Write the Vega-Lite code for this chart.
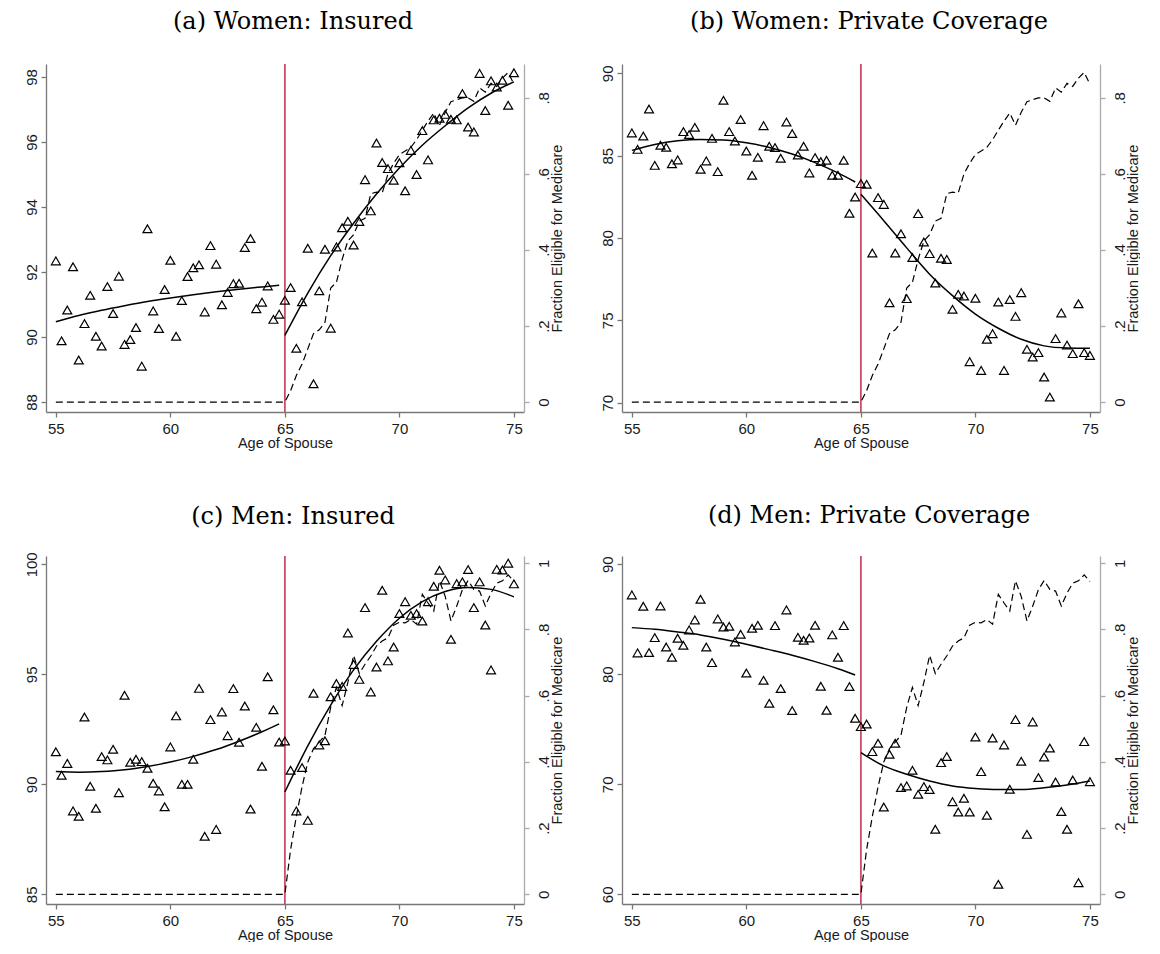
{
 "$schema": "https://vega.github.io/schema/vega-lite/v6.json",
 "background": "white",
 "padding": {"left": 23, "top": 10, "right": 0, "bottom": 0},
 "datasets": {
  "q": [
   {"age":55,"a":92.34,"b":86.38,"c":91.48,"d":87.21,"w":0,"m":0},
   {"age":55.25,"a":89.88,"b":85.38,"c":90.41,"d":81.94,"w":0,"m":0},
   {"age":55.5,"a":90.83,"b":86.19,"c":90.95,"d":86.18,"w":0,"m":0},
   {"age":55.75,"a":92.16,"b":87.83,"c":88.79,"d":81.97,"w":0,"m":0},
   {"age":56,"a":89.29,"b":84.41,"c":88.55,"d":83.33,"w":0,"m":0},
   {"age":56.25,"a":90.41,"b":85.63,"c":93.06,"d":86.21,"w":0,"m":0},
   {"age":56.5,"a":91.28,"b":85.51,"c":89.91,"d":82.48,"w":0,"m":0},
   {"age":56.75,"a":90.02,"b":84.51,"c":88.91,"d":81.55,"w":0,"m":0},
   {"age":57,"a":89.72,"b":84.74,"c":91.26,"d":83.27,"w":0,"m":0},
   {"age":57.25,"a":91.55,"b":86.46,"c":91.11,"d":82.64,"w":0,"m":0},
   {"age":57.5,"a":90.72,"b":86.28,"c":91.59,"d":84.03,"w":0,"m":0},
   {"age":57.75,"a":91.87,"b":86.72,"c":89.62,"d":84.94,"w":0,"m":0},
   {"age":58,"a":89.77,"b":84.17,"c":94.05,"d":86.82,"w":0,"m":0},
   {"age":58.25,"a":89.92,"b":84.68,"c":91.0,"d":82.48,"w":0,"m":0},
   {"age":58.5,"a":90.29,"b":86.05,"c":91.14,"d":81.06,"w":0,"m":0},
   {"age":58.75,"a":89.10,"b":84.03,"c":91.03,"d":85.03,"w":0,"m":0},
   {"age":59,"a":93.33,"b":88.36,"c":90.73,"d":84.30,"w":0,"m":0},
   {"age":59.25,"a":90.80,"b":86.46,"c":90.05,"d":84.36,"w":0,"m":0},
   {"age":59.5,"a":90.26,"b":85.89,"c":89.70,"d":82.94,"w":0,"m":0},
   {"age":59.75,"a":91.46,"b":87.19,"c":88.98,"d":83.64,"w":0,"m":0},
   {"age":60,"a":92.36,"b":85.28,"c":91.70,"d":80.12,"w":0,"m":0},
   {"age":60.25,"a":90.02,"b":83.81,"c":93.11,"d":84.18,"w":0,"m":0},
   {"age":60.5,"a":91.12,"b":84.90,"c":90.0,"d":84.45,"w":0,"m":0},
   {"age":60.75,"a":91.86,"b":86.82,"c":90.0,"d":79.45,"w":0,"m":0},
   {"age":61,"a":92.13,"b":85.57,"c":91.14,"d":77.36,"w":0,"m":0},
   {"age":61.25,"a":92.22,"b":85.49,"c":94.36,"d":84.42,"w":0,"m":0},
   {"age":61.5,"a":90.77,"b":84.84,"c":87.64,"d":78.70,"w":0,"m":0},
   {"age":61.75,"a":92.81,"b":87.04,"c":92.94,"d":85.85,"w":0,"m":0},
   {"age":62,"a":92.24,"b":86.34,"c":87.95,"d":76.70,"w":0,"m":0},
   {"age":62.25,"a":90.99,"b":85.04,"c":93.29,"d":83.36,"w":0,"m":0},
   {"age":62.5,"a":91.37,"b":85.57,"c":92.21,"d":83.09,"w":0,"m":0},
   {"age":62.75,"a":91.64,"b":83.95,"c":94.35,"d":83.30,"w":0,"m":0},
   {"age":63,"a":91.65,"b":84.88,"c":91.91,"d":84.45,"w":0,"m":0},
   {"age":63.25,"a":92.75,"b":84.64,"c":93.56,"d":78.91,"w":0,"m":0},
   {"age":63.5,"a":93.03,"b":84.72,"c":88.88,"d":76.73,"w":0,"m":0},
   {"age":63.75,"a":90.87,"b":83.81,"c":92.59,"d":83.58,"w":0,"m":0},
   {"age":64,"a":91.07,"b":83.81,"c":90.82,"d":81.55,"w":0,"m":0},
   {"age":64.25,"a":91.57,"b":84.72,"c":94.89,"d":84.42,"w":0,"m":0},
   {"age":64.5,"a":90.54,"b":81.50,"c":93.39,"d":78.88,"w":0,"m":0},
   {"age":64.75,"a":90.70,"b":82.49,"c":91.92,"d":76.0,"w":0,"m":0},
   {"age":65,"a":91.13,"b":83.30,"c":91.97,"d":75.24,"w":0,"m":0},
   {"age":65.25,"a":91.52,"b":83.26,"c":90.64,"d":75.48,"w":0.03,"m":0.135},
   {"age":65.5,"a":89.65,"b":79.09,"c":88.79,"d":72.97,"w":0.07,"m":0.235},
   {"age":65.75,"a":91.08,"b":82.45,"c":90.76,"d":73.73,"w":0.10,"m":0.325},
   {"age":66,"a":92.73,"b":82.04,"c":88.36,"d":67.94,"w":0.14,"m":0.40},
   {"age":66.25,"a":88.56,"b":76.07,"c":94.14,"d":72.73,"w":0.18,"m":0.44},
   {"age":66.5,"a":91.42,"b":79.09,"c":91.79,"d":73.73,"w":0.19,"m":0.46},
   {"age":66.75,"a":92.70,"b":80.26,"c":91.98,"d":69.70,"w":0.21,"m":0.48},
   {"age":67,"a":90.27,"b":76.32,"c":93.98,"d":69.85,"w":0.30,"m":0.565},
   {"age":67.25,"a":92.77,"b":78.81,"c":94.58,"d":71.27,"w":0.315,"m":0.625},
   {"age":67.5,"a":93.36,"b":81.48,"c":94.45,"d":69.09,"w":0.375,"m":0.57},
   {"age":67.75,"a":93.56,"b":79.76,"c":96.88,"d":69.79,"w":0.424,"m":0.64},
   {"age":68,"a":92.83,"b":79.05,"c":95.45,"d":69.52,"w":0.44,"m":0.722},
   {"age":68.25,"a":93.55,"b":77.27,"c":94.77,"d":65.91,"w":0.476,"m":0.667},
   {"age":68.5,"a":94.84,"b":78.77,"c":98.03,"d":71.97,"w":0.483,"m":0.695},
   {"age":68.75,"a":93.88,"b":78.70,"c":94.20,"d":72.52,"w":0.548,"m":0.72},
   {"age":69,"a":95.97,"b":75.67,"c":95.33,"d":68.42,"w":0.552,"m":0.75},
   {"age":69.25,"a":95.37,"b":76.58,"c":98.82,"d":67.48,"w":0.55,"m":0.765},
   {"age":69.5,"a":95.18,"b":76.48,"c":95.61,"d":68.73,"w":0.60,"m":0.775},
   {"age":69.75,"a":94.82,"b":72.49,"c":96.24,"d":67.48,"w":0.628,"m":0.813},
   {"age":70,"a":95.36,"b":76.34,"c":97.76,"d":74.30,"w":0.651,"m":0.822},
   {"age":70.25,"a":94.50,"b":71.96,"c":98.30,"d":71.15,"w":0.66,"m":0.82},
   {"age":70.5,"a":95.74,"b":73.85,"c":97.68,"d":67.18,"w":0.67,"m":0.83},
   {"age":70.75,"a":95.0,"b":74.19,"c":97.76,"d":74.21,"w":0.69,"m":0.816},
   {"age":71,"a":96.35,"b":76.11,"c":97.42,"d":60.91,"w":0.715,"m":0.906},
   {"age":71.25,"a":95.45,"b":71.96,"c":98.30,"d":73.58,"w":0.739,"m":0.88},
   {"age":71.5,"a":96.68,"b":76.26,"c":99.0,"d":69.55,"w":0.76,"m":0.856},
   {"age":71.75,"a":96.73,"b":75.24,"c":99.73,"d":75.88,"w":0.728,"m":0.947},
   {"age":72,"a":96.85,"b":76.68,"c":99.29,"d":72.09,"w":0.762,"m":0.9},
   {"age":72.25,"a":96.70,"b":73.24,"c":96.59,"d":65.45,"w":0.79,"m":0.826},
   {"age":72.5,"a":96.68,"b":72.77,"c":99.12,"d":75.67,"w":0.795,"m":0.87},
   {"age":72.75,"a":97.49,"b":73.04,"c":99.20,"d":70.61,"w":0.80,"m":0.92},
   {"age":73,"a":96.46,"b":71.56,"c":99.76,"d":72.48,"w":0.80,"m":0.948},
   {"age":73.25,"a":96.31,"b":70.34,"c":98.03,"d":73.30,"w":0.791,"m":0.921},
   {"age":73.5,"a":98.11,"b":73.89,"c":99.20,"d":70.21,"w":0.826,"m":0.916},
   {"age":73.75,"a":96.97,"b":75.45,"c":97.24,"d":67.52,"w":0.815,"m":0.871},
   {"age":74,"a":97.88,"b":73.50,"c":95.20,"d":65.91,"w":0.838,"m":0.91},
   {"age":74.25,"a":97.69,"b":72.98,"c":99.77,"d":70.39,"w":0.83,"m":0.94},
   {"age":74.5,"a":97.90,"b":76.01,"c":99.74,"d":61.06,"w":0.852,"m":0.947},
   {"age":74.75,"a":97.13,"b":73.04,"c":100.05,"d":73.88,"w":0.867,"m":0.965},
   {"age":75,"a":98.13,"b":72.87,"c":99.11,"d":70.24,"w":0.836,"m":0.945}
  ],
  "fit": [
   {"age":55,"s":"L","a":90.47,"b":85.32,"c":90.58,"d":84.24},
   {"age":56,"s":"L","a":90.66,"b":85.68,"c":90.55,"d":84.09},
   {"age":57,"s":"L","a":90.82,"b":85.90,"c":90.58,"d":83.85},
   {"age":58,"s":"L","a":90.96,"b":85.98,"c":90.66,"d":83.58},
   {"age":59,"s":"L","a":91.09,"b":85.95,"c":90.81,"d":83.18},
   {"age":60,"s":"L","a":91.20,"b":85.78,"c":91.01,"d":82.73},
   {"age":61,"s":"L","a":91.30,"b":85.50,"c":91.27,"d":82.24},
   {"age":62,"s":"L","a":91.39,"b":85.10,"c":91.58,"d":81.73},
   {"age":63,"s":"L","a":91.47,"b":84.58,"c":91.96,"d":81.15},
   {"age":64,"s":"L","a":91.54,"b":83.95,"c":92.39,"d":80.50},
   {"age":64.75,"s":"L","a":91.59,"b":83.40,"c":92.75,"d":79.94},
   {"age":65,"s":"R","a":90.05,"b":82.65,"c":89.65,"d":72.88},
   {"age":66,"s":"R","a":91.35,"b":81.05,"c":91.75,"d":71.67},
   {"age":67,"s":"R","a":92.50,"b":79.40,"c":93.60,"d":70.91},
   {"age":68,"s":"R","a":93.50,"b":77.80,"c":95.20,"d":70.30},
   {"age":69,"s":"R","a":94.40,"b":76.50,"c":96.50,"d":69.85},
   {"age":70,"s":"R","a":95.20,"b":75.38,"c":97.55,"d":69.62},
   {"age":71,"s":"R","a":95.90,"b":74.52,"c":98.30,"d":69.52},
   {"age":72,"s":"R","a":96.50,"b":73.85,"c":98.76,"d":69.52},
   {"age":73,"s":"R","a":97.05,"b":73.45,"c":98.94,"d":69.68},
   {"age":74,"s":"R","a":97.50,"b":73.32,"c":98.86,"d":69.94},
   {"age":75,"s":"R","a":97.85,"b":73.30,"c":98.52,"d":70.30}
  ]
 },
 "columns": 2,
 "spacing": {"row": 144, "column": 98},
 "bounds": "flush",
 "concat": [
  {
   "width": 478, "height": 348,
   "title": {"text": "(a) Women: Insured", "font": "DejaVu Serif", "fontSize": 24, "fontWeight": "normal", "color": "#000", "anchor": "middle", "frame": "group", "dx": 8, "dy": 27, "offset": 37, "baseline": "alphabetic"},
   "layer": [
    {"layer": [
     {"data": {"values": [{"age": 65}]}, "mark": {"type": "rule", "color": "#c8506a", "strokeWidth": 1.8},
      "encoding": {"x": {"field": "age", "type": "quantitative", "scale": {"domain": [54.57, 75.44], "nice": false, "zero": false}, "axis": {"values": [55, 60, 65, 70, 75], "title": "Age of Spouse", "titlePadding": 0, "labelPadding": 4, "domainColor": "#777", "tickColor": "#777"}}}},
     {"data": {"name": "q"}, "mark": {"type": "point", "shape": "triangle-up", "filled": false, "stroke": "#000", "strokeWidth": 1.2, "size": 80, "opacity": 1},
      "encoding": {"x": {"field": "age", "type": "quantitative"}, "y": {"field": "a", "type": "quantitative", "scale": {"domain": [87.69, 98.4], "nice": false, "zero": false}, "axis": {"values": [88, 90, 92, 94, 96, 98], "title": null, "labelAngle": -90, "labelAlign": "center", "labelBaseline": "alphabetic", "labelPadding": 5, "domainColor": "#777", "tickColor": "#777"}}}},
     {"data": {"name": "fit"}, "mark": {"type": "line", "color": "#000", "strokeWidth": 1.5, "interpolate": "monotone"},
      "encoding": {"x": {"field": "age", "type": "quantitative"}, "y": {"field": "a", "type": "quantitative"}, "detail": {"field": "s"}}}
    ]},
    {"data": {"name": "q"}, "mark": {"type": "line", "color": "#000", "strokeWidth": 1.2, "strokeDash": [7, 4]},
     "encoding": {"x": {"field": "age", "type": "quantitative"}, "y": {"field": "w", "type": "quantitative", "scale": {"domain": [-0.026, 0.889], "nice": false, "zero": false}, "axis": {"orient": "right", "values": [0, 0.2, 0.4, 0.6, 0.8], "labelExpr": "datum.value == 0 ? '0' : datum.value == 1 ? '1' : substring(format(datum.value, '.1f'), 1)", "title": "Fraction Eligible for Medicare", "titleAngle": 270, "titleBaseline": "alphabetic", "titleAlign": "center", "titleX": 37, "titleY": 174, "labelAngle": -90, "labelAlign": "center", "labelBaseline": "top", "labelPadding": 7, "domainColor": "#aaa", "tickColor": "#aaa"}}}}
   ],
   "resolve": {"scale": {"y": "independent"}}
  },
  {
   "width": 478, "height": 348,
   "title": {"text": "(b) Women: Private Coverage", "font": "DejaVu Serif", "fontSize": 24, "fontWeight": "normal", "color": "#000", "anchor": "middle", "frame": "group", "dx": 8, "dy": 27, "offset": 37, "baseline": "alphabetic"},
   "layer": [
    {"layer": [
     {"data": {"values": [{"age": 65}]}, "mark": {"type": "rule", "color": "#c8506a", "strokeWidth": 1.8},
      "encoding": {"x": {"field": "age", "type": "quantitative", "scale": {"domain": [54.57, 75.44], "nice": false, "zero": false}, "axis": {"values": [55, 60, 65, 70, 75], "title": "Age of Spouse", "titlePadding": 0, "labelPadding": 4, "domainColor": "#777", "tickColor": "#777"}}}},
     {"data": {"name": "q"}, "mark": {"type": "point", "shape": "triangle-up", "filled": false, "stroke": "#000", "strokeWidth": 1.2, "size": 80, "opacity": 1},
      "encoding": {"x": {"field": "age", "type": "quantitative"}, "y": {"field": "b", "type": "quantitative", "scale": {"domain": [69.435, 90.565], "nice": false, "zero": false}, "axis": {"values": [70, 75, 80, 85, 90], "title": null, "labelAngle": -90, "labelAlign": "center", "labelBaseline": "alphabetic", "labelPadding": 5, "domainColor": "#777", "tickColor": "#777"}}}},
     {"data": {"name": "fit"}, "mark": {"type": "line", "color": "#000", "strokeWidth": 1.5, "interpolate": "monotone"},
      "encoding": {"x": {"field": "age", "type": "quantitative"}, "y": {"field": "b", "type": "quantitative"}, "detail": {"field": "s"}}}
    ]},
    {"data": {"name": "q"}, "mark": {"type": "line", "color": "#000", "strokeWidth": 1.2, "strokeDash": [7, 4]},
     "encoding": {"x": {"field": "age", "type": "quantitative"}, "y": {"field": "w", "type": "quantitative", "scale": {"domain": [-0.026, 0.889], "nice": false, "zero": false}, "axis": {"orient": "right", "values": [0, 0.2, 0.4, 0.6, 0.8], "labelExpr": "datum.value == 0 ? '0' : datum.value == 1 ? '1' : substring(format(datum.value, '.1f'), 1)", "title": "Fraction Eligible for Medicare", "titleAngle": 270, "titleBaseline": "alphabetic", "titleAlign": "center", "titleX": 37, "titleY": 174, "labelAngle": -90, "labelAlign": "center", "labelBaseline": "top", "labelPadding": 7, "domainColor": "#aaa", "tickColor": "#aaa"}}}}
   ],
   "resolve": {"scale": {"y": "independent"}}
  },
  {
   "width": 478, "height": 348,
   "title": {"text": "(c) Men: Insured", "font": "DejaVu Serif", "fontSize": 24, "fontWeight": "normal", "color": "#000", "anchor": "middle", "frame": "group", "dx": 8, "dy": 28, "offset": 32, "baseline": "alphabetic"},
   "layer": [
    {"layer": [
     {"data": {"values": [{"age": 65}]}, "mark": {"type": "rule", "color": "#c8506a", "strokeWidth": 1.8},
      "encoding": {"x": {"field": "age", "type": "quantitative", "scale": {"domain": [54.57, 75.44], "nice": false, "zero": false}, "axis": {"values": [55, 60, 65, 70, 75], "title": "Age of Spouse", "titlePadding": 0, "labelPadding": 4, "domainColor": "#777", "tickColor": "#777"}}}},
     {"data": {"name": "q"}, "mark": {"type": "point", "shape": "triangle-up", "filled": false, "stroke": "#000", "strokeWidth": 1.2, "size": 80, "opacity": 1},
      "encoding": {"x": {"field": "age", "type": "quantitative"}, "y": {"field": "c", "type": "quantitative", "scale": {"domain": [84.56, 100.377], "nice": false, "zero": false}, "axis": {"values": [85, 90, 95, 100], "title": null, "labelAngle": -90, "labelAlign": "center", "labelBaseline": "alphabetic", "labelPadding": 5, "domainColor": "#777", "tickColor": "#777"}}}},
     {"data": {"name": "fit"}, "mark": {"type": "line", "color": "#000", "strokeWidth": 1.5, "interpolate": "monotone"},
      "encoding": {"x": {"field": "age", "type": "quantitative"}, "y": {"field": "c", "type": "quantitative"}, "detail": {"field": "s"}}}
    ]},
    {"data": {"name": "q"}, "mark": {"type": "line", "color": "#000", "strokeWidth": 1.2, "strokeDash": [7, 4]},
     "encoding": {"x": {"field": "age", "type": "quantitative"}, "y": {"field": "m", "type": "quantitative", "scale": {"domain": [-0.0293, 1.022], "nice": false, "zero": false}, "axis": {"orient": "right", "values": [0, 0.2, 0.4, 0.6, 0.8, 1], "labelExpr": "datum.value == 0 ? '0' : datum.value == 1 ? '1' : substring(format(datum.value, '.1f'), 1)", "title": "Fraction Eligible for Medicare", "titleAngle": 270, "titleBaseline": "alphabetic", "titleAlign": "center", "titleX": 37, "titleY": 174, "labelAngle": -90, "labelAlign": "center", "labelBaseline": "top", "labelPadding": 7, "domainColor": "#aaa", "tickColor": "#aaa"}}}}
   ],
   "resolve": {"scale": {"y": "independent"}}
  },
  {
   "width": 478, "height": 348,
   "title": {"text": "(d) Men: Private Coverage", "font": "DejaVu Serif", "fontSize": 24, "fontWeight": "normal", "color": "#000", "anchor": "middle", "frame": "group", "dx": 8, "dy": 24, "offset": 32, "baseline": "alphabetic"},
   "layer": [
    {"layer": [
     {"data": {"values": [{"age": 65}]}, "mark": {"type": "rule", "color": "#c8506a", "strokeWidth": 1.8},
      "encoding": {"x": {"field": "age", "type": "quantitative", "scale": {"domain": [54.57, 75.44], "nice": false, "zero": false}, "axis": {"values": [55, 60, 65, 70, 75], "title": "Age of Spouse", "titlePadding": 0, "labelPadding": 4, "domainColor": "#777", "tickColor": "#777"}}}},
     {"data": {"name": "q"}, "mark": {"type": "point", "shape": "triangle-up", "filled": false, "stroke": "#000", "strokeWidth": 1.2, "size": 80, "opacity": 1},
      "encoding": {"x": {"field": "age", "type": "quantitative"}, "y": {"field": "d", "type": "quantitative", "scale": {"domain": [59.12, 90.75], "nice": false, "zero": false}, "axis": {"values": [60, 70, 80, 90], "title": null, "labelAngle": -90, "labelAlign": "center", "labelBaseline": "alphabetic", "labelPadding": 5, "domainColor": "#777", "tickColor": "#777"}}}},
     {"data": {"name": "fit"}, "mark": {"type": "line", "color": "#000", "strokeWidth": 1.5, "interpolate": "monotone"},
      "encoding": {"x": {"field": "age", "type": "quantitative"}, "y": {"field": "d", "type": "quantitative"}, "detail": {"field": "s"}}}
    ]},
    {"data": {"name": "q"}, "mark": {"type": "line", "color": "#000", "strokeWidth": 1.2, "strokeDash": [7, 4]},
     "encoding": {"x": {"field": "age", "type": "quantitative"}, "y": {"field": "m", "type": "quantitative", "scale": {"domain": [-0.0293, 1.022], "nice": false, "zero": false}, "axis": {"orient": "right", "values": [0, 0.2, 0.4, 0.6, 0.8, 1], "labelExpr": "datum.value == 0 ? '0' : datum.value == 1 ? '1' : substring(format(datum.value, '.1f'), 1)", "title": "Fraction Eligible for Medicare", "titleAngle": 270, "titleBaseline": "alphabetic", "titleAlign": "center", "titleX": 37, "titleY": 174, "labelAngle": -90, "labelAlign": "center", "labelBaseline": "top", "labelPadding": 7, "domainColor": "#aaa", "tickColor": "#aaa"}}}}
   ],
   "resolve": {"scale": {"y": "independent"}}
  }
 ],
 "config": {
  "view": {"stroke": null},
  "axis": {"grid": false, "labelFont": "Liberation Sans", "labelFontSize": 15, "labelColor": "#1a1a1a", "titleFont": "Liberation Sans", "titleFontSize": 14.5, "titleFontWeight": "normal", "titleColor": "#1a1a1a", "tickSize": 5, "domainWidth": 1.3, "tickWidth": 1.3}
 }
}
